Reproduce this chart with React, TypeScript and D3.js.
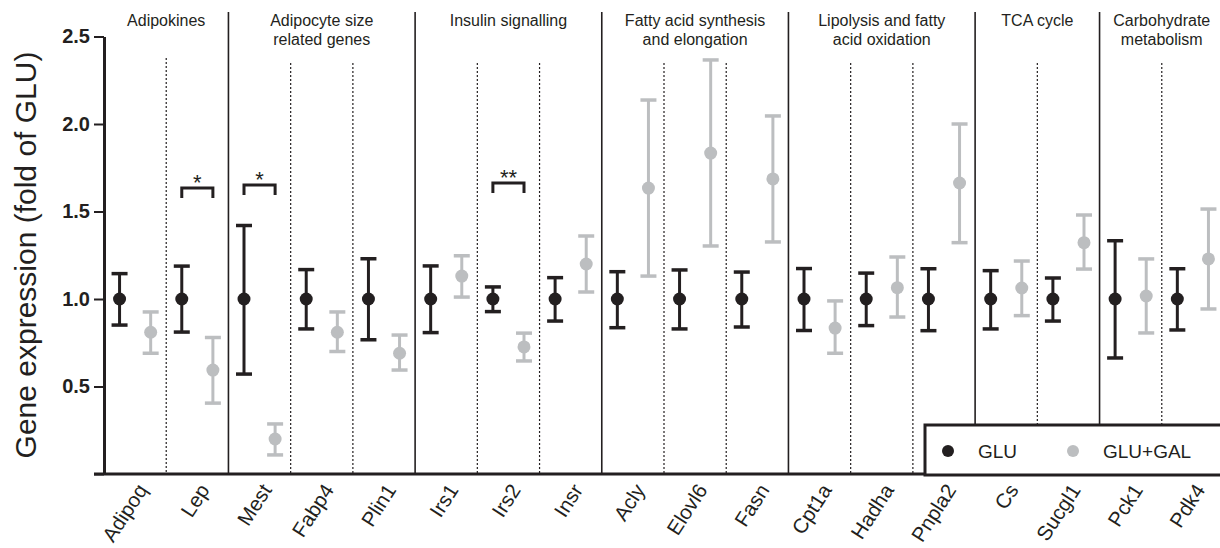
import React, { useRef, useEffect } from "react";
import * as d3 from "d3";

const genes = ["Adipoq", "Lep", "Mest", "Fabp4", "Plin1", "Irs1", "Irs2", "Insr", "Acly", "Elovl6", "Fasn", "Cpt1a", "Hadha", "Pnpla2", "Cs", "Sucgl1", "Pck1", "Pdk4"];

const gluMean = [1, 1, 1, 1, 1, 1, 1, 1, 1, 1, 1, 1, 1, 1, 1, 1, 1, 1];
const gluHigh = [1.145, 1.188, 1.42, 1.168, 1.23, 1.189, 1.069, 1.122, 1.156, 1.166, 1.154, 1.174, 1.148, 1.173, 1.162, 1.12, 1.333, 1.173];
const gluLow = [0.851, 0.811, 0.571, 0.829, 0.767, 0.808, 0.928, 0.874, 0.836, 0.829, 0.84, 0.82, 0.848, 0.819, 0.829, 0.874, 0.663, 0.823];

const galMean = [0.81, 0.594, 0.2, 0.81, 0.69, 1.131, 0.726, 1.2, 1.634, 1.834, 1.686, 0.834, 1.065, 1.663, 1.063, 1.322, 1.017, 1.229];
const galHigh = [0.926, 0.78, 0.286, 0.926, 0.794, 1.247, 0.805, 1.36, 2.137, 2.366, 2.046, 0.989, 1.24, 2.0, 1.217, 1.48, 1.229, 1.514];
const galLow = [0.69, 0.405, 0.109, 0.7, 0.594, 1.011, 0.646, 1.04, 1.131, 1.303, 1.326, 0.69, 0.897, 1.322, 0.905, 1.171, 0.806, 0.943];

const groupLabels = [
  ["Adipokines"],
  ["Adipocyte size", "related genes"],
  ["Insulin signalling"],
  ["Fatty acid synthesis", "and elongation"],
  ["Lipolysis and fatty", "acid oxidation"],
  ["TCA cycle"],
  ["Carbohydrate", "metabolism"],
];
const groupSizes = [2, 3, 3, 3, 3, 2, 2];

const sigGenes = ["Lep", "Mest", "Irs2"];
const sigLevels = [1.634, 1.651, 1.663];
const sigLabels = ["*", "*", "**"];

const yTicks = [0, 0.5, 1.0, 1.5, 2.0, 2.5];
const legendLabels = ["GLU", "GLU+GAL"];

const BLACK = "#231f20";
const GREY = "#bcbec0";
const FONT = "'Liberation Sans', Arial, Helvetica, sans-serif";

const App = () => {
  const svgRef = useRef<SVGSVGElement>(null);

  useEffect(() => {
    document.body.style.margin = "0";
    const svg = d3.select(svgRef.current);
    svg.selectAll("*").remove();

    const x = d3.scaleBand().domain(genes).range([104, 1224]).padding(0);
    const y = d3.scaleLinear().domain([0, 2.5]).range([474, 36.5]);
    const bw = x.bandwidth();
    const off = bw * 0.25;

    // separators between genes (solid between groups, dotted within)
    let idx = 0;
    const solid: number[] = [];
    const dotted: number[] = [];
    groupSizes.forEach((n, g) => {
      for (let k = 1; k < n; k++) dotted.push(idx + k);
      idx += n;
      if (g < groupSizes.length - 1) solid.push(idx);
    });

    svg.append("g").selectAll("line")
      .data(solid)
      .join("line")
      .attr("x1", d => 104 + d * bw)
      .attr("x2", d => 104 + d * bw)
      .attr("y1", 12)
      .attr("y2", y(0))
      .attr("stroke", BLACK)
      .attr("stroke-width", 1.6);

    svg.append("g").selectAll("line")
      .data(dotted)
      .join("line")
      .attr("x1", d => 104 + d * bw)
      .attr("x2", d => 104 + d * bw)
      .attr("y1", d => (d === 1 ? 58 : 63))
      .attr("y2", y(0))
      .attr("stroke", BLACK)
      .attr("stroke-width", 1.2)
      .attr("stroke-dasharray", "2,2");

    // group labels
    let start = 0;
    groupLabels.forEach((lines, g) => {
      const cx = 104 + (start + groupSizes[g] / 2) * bw;
      start += groupSizes[g];
      const t = svg.append("text")
        .attr("text-anchor", "middle")
        .style("font-family", FONT)
        .style("font-size", "16px")
        .style("fill", BLACK);
      lines.forEach((line, i) => {
        t.append("tspan").attr("x", cx).attr("y", 26 + i * 19).text(line);
      });
    });

    // y axis
    const yAxis = d3.axisLeft(y)
      .tickValues(yTicks)
      .tickSize(10)
      .tickSizeOuter(0)
      .tickPadding(4)
      .tickFormat(d => (+d === 0 ? "" : d3.format(".1f")(+d)));

    const yg = svg.append("g").attr("transform", "translate(104,0)").call(yAxis);
    yg.select(".domain").attr("stroke", BLACK).attr("stroke-width", 3);
    yg.selectAll(".tick line").attr("stroke", BLACK).attr("stroke-width", 2);
    yg.selectAll(".tick text")
      .style("font-family", FONT)
      .style("font-size", "20px")
      .style("font-weight", "bold")
      .style("fill", BLACK);

    // x axis line
    svg.append("line")
      .attr("x1", 94)
      .attr("x2", 1220)
      .attr("y1", y(0))
      .attr("y2", y(0))
      .attr("stroke", BLACK)
      .attr("stroke-width", 3);

    // x labels
    svg.append("g").selectAll("text")
      .data(genes)
      .join("text")
      .attr("transform", d => `translate(${(x(d) as number) + bw / 2 + 13},490) rotate(-57)`)
      .attr("text-anchor", "end")
      .style("font-family", FONT)
      .style("font-size", "20.5px")
      .style("fill", BLACK)
      .text(d => d);

    // y title
    svg.append("text")
      .attr("transform", "translate(36,255) rotate(-90)")
      .attr("text-anchor", "middle")
      .style("font-family", FONT)
      .style("font-size", "30px")
      .style("fill", BLACK)
      .text("Gene expression (fold of GLU)");

    // error bars + points
    const series = [
      { mean: gluMean, hi: gluHigh, lo: gluLow, color: BLACK, dx: -off },
      { mean: galMean, hi: galHigh, lo: galLow, color: GREY, dx: off },
    ];

    series.forEach(s => {
      const g = svg.append("g");
      const cx = (i: number) => (x(genes[i]) as number) + bw / 2 + s.dx;
      const ids = d3.range(genes.length);
      g.selectAll("line.v").data(ids).join("line")
        .attr("class", "v")
        .attr("x1", cx).attr("x2", cx)
        .attr("y1", i => y(s.hi[i])).attr("y2", i => y(s.lo[i]))
        .attr("stroke", s.color).attr("stroke-width", 3);
      g.selectAll("line.hi").data(ids).join("line")
        .attr("class", "hi")
        .attr("x1", i => cx(i) - 8).attr("x2", i => cx(i) + 8)
        .attr("y1", i => y(s.hi[i])).attr("y2", i => y(s.hi[i]))
        .attr("stroke", s.color).attr("stroke-width", 3.5);
      g.selectAll("line.lo").data(ids).join("line")
        .attr("class", "lo")
        .attr("x1", i => cx(i) - 8).attr("x2", i => cx(i) + 8)
        .attr("y1", i => y(s.lo[i])).attr("y2", i => y(s.lo[i]))
        .attr("stroke", s.color).attr("stroke-width", 3.5);
      g.selectAll("circle").data(ids).join("circle")
        .attr("cx", cx)
        .attr("cy", i => y(s.mean[i]))
        .attr("r", 6.5)
        .attr("fill", s.color);
    });

    // significance brackets
    sigGenes.forEach((gname, i) => {
      const cx = (x(gname) as number) + bw / 2;
      const top = y(sigLevels[i]);
      svg.append("path")
        .attr("d", `M${cx - off},${top + 10}V${top}H${cx + off}V${top + 10}`)
        .attr("fill", "none")
        .attr("stroke", BLACK)
        .attr("stroke-width", 3);
      svg.append("text")
        .attr("x", cx)
        .attr("y", top + 2)
        .attr("text-anchor", "middle")
        .style("font-family", FONT)
        .style("font-size", "22px")
        .style("fill", BLACK)
        .text(sigLabels[i]);
    });

    // legend
    const lg = svg.append("g");
    lg.append("rect")
      .attr("x", 925)
      .attr("y", 425)
      .attr("width", 310)
      .attr("height", 50)
      .attr("fill", "white")
      .attr("stroke", BLACK)
      .attr("stroke-width", 3);
    const legendX = [948, 1073];
    legendLabels.forEach((lab, i) => {
      lg.append("circle")
        .attr("cx", legendX[i])
        .attr("cy", 451)
        .attr("r", 6)
        .attr("fill", i === 0 ? BLACK : GREY);
      lg.append("text")
        .attr("x", legendX[i] + 30)
        .attr("y", 458)
        .style("font-family", FONT)
        .style("font-size", "19px")
        .style("fill", BLACK)
        .text(lab);
    });
  }, []);

  return <svg ref={svgRef} width={1220} height={548} style={{ display: "block", background: "white" }} />;
};

export default App;
